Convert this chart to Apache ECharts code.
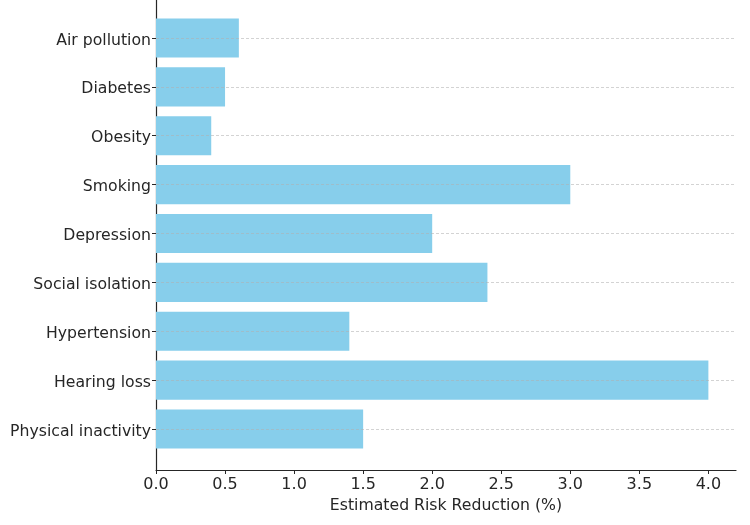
<!DOCTYPE html>
<html>
<head>
<meta charset="utf-8">
<script src="https://cdn.jsdelivr.net/npm/echarts@6/dist/echarts.min.js"></script>
<style>
	html, body { margin: 0; padding: 0; background: #fff; }
	#chart { width: 750px; height: 525px; }
</style>
</head>
<body>
<div id="chart"></div>
<script>
// 类别（自上而下）
const categories = ['Air pollution', 'Diabetes', 'Obesity', 'Smoking', 'Depression',
	'Social isolation', 'Hypertension', 'Hearing loss', 'Physical inactivity'];
// 风险降低估计值 (%)
const reductions = [0.6, 0.5, 0.4, 3.0, 2.0, 2.4, 1.4, 4.0, 1.5];
// x 轴范围
const xMin = 0;
const xMax = 4.2;
const xStep = 0.5;

const FONT = 'DejaVu Sans';
const TEXT = '#262626';

const chart = echarts.init(document.getElementById('chart'));
chart.setOption({
	animation: false,
	grid: [
		// 坐标框（轴线 + x 刻度）
		{ left: 156, right: 14, top: -3, bottom: 55 },
		// 柱状区域
		{ left: 156, right: 14, top: 13.56, bottom: 71.56 }
	],
	xAxis: [
		{
			gridIndex: 0,
			type: 'value',
			min: xMin,
			max: xMax,
			interval: xStep,
			name: 'Estimated Risk Reduction (%)',
			nameLocation: 'middle',
			nameGap: 21,
			nameTextStyle: { fontFamily: FONT, fontSize: 15.7, color: TEXT },
			axisLine: { show: true, lineStyle: { color: '#262626', width: 1.2 } },
			axisTick: { show: true, length: 4, lineStyle: { color: '#262626' } },
			axisLabel: {
				fontFamily: FONT, fontSize: 16, color: TEXT, margin: 7,
				formatter: v => v.toFixed(1),
				showMaxLabel: false
			},
			splitLine: { show: false }
		},
		{
			gridIndex: 1,
			type: 'value',
			min: xMin,
			max: xMax,
			show: false
		}
	],
	yAxis: [
		{
			gridIndex: 0,
			type: 'value',
			axisLine: { show: true, lineStyle: { color: '#262626', width: 1.2 } },
			axisTick: { show: false },
			axisLabel: { show: false },
			splitLine: { show: false }
		},
		{
			gridIndex: 1,
			type: 'category',
			inverse: true,
			data: categories,
			axisLine: { show: false },
			axisTick: { show: true, alignWithLabel: true, length: 4, lineStyle: { color: '#262626' } },
			axisLabel: {
				margin: 5,
				formatter: v => '{c|' + v + '}',
				rich: {
					c: { fontFamily: FONT, fontSize: 15.7, color: TEXT, padding: [5, 0, 0, 0] }
				}
			},
			splitLine: { show: false }
		}
	],
	series: [
		{
			type: 'bar',
			xAxisIndex: 1,
			yAxisIndex: 1,
			data: reductions,
			barWidth: '80%',
			itemStyle: { color: '#87CEEB' },
			markLine: {
				silent: true,
				symbol: 'none',
				label: { show: false },
				lineStyle: { type: [3, 2], color: '#b0b0b0', width: 0.8, opacity: 0.7 },
				data: categories.map(c => ({ yAxis: c }))
			}
		}
	]
});
</script>
</body>
</html>
